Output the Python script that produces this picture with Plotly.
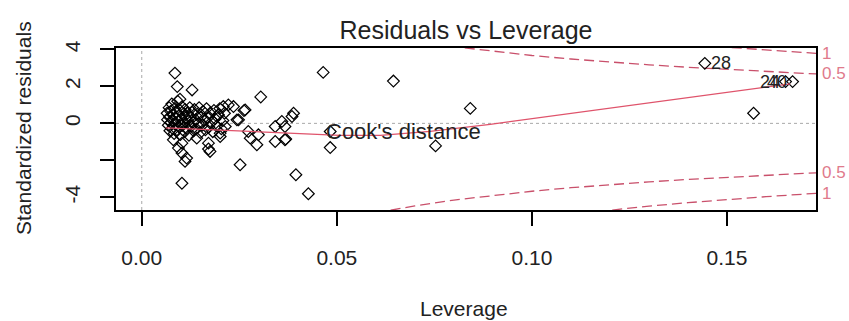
import plotly.graph_objects as go

# ---- data ----
leverage = [
    0.0065, 0.0066, 0.0068, 0.0070, 0.0071, 0.0072, 0.0074, 0.0075, 0.0077, 0.0078,
    0.0080, 0.0081, 0.0083, 0.0084, 0.0086, 0.0087, 0.0089, 0.0090, 0.0092, 0.0093,
    0.0095, 0.0096, 0.0098, 0.0099, 0.0101, 0.0103, 0.0104, 0.0106, 0.0108, 0.0110,
    0.0111, 0.0113, 0.0115, 0.0117, 0.0119, 0.0121, 0.0123, 0.0125, 0.0127, 0.0129,
    0.0131, 0.0133, 0.0135, 0.0138, 0.0140, 0.0142, 0.0145, 0.0147, 0.0150, 0.0152,
    0.0155, 0.0157, 0.0160, 0.0163, 0.0166, 0.0169, 0.0172, 0.0175, 0.0178, 0.0182,
    0.0185, 0.0188, 0.0192, 0.0196, 0.0200, 0.0204, 0.0208, 0.0212,
    0.0085, 0.0091, 0.0129, 0.0098, 0.0305, 0.0265, 0.0222, 0.0235, 0.0209, 0.0248,
    0.0196, 0.0201, 0.0214, 0.0273, 0.0278, 0.0299, 0.0295, 0.0342, 0.0359, 0.0367,
    0.0385, 0.0389, 0.0342, 0.0367, 0.0252, 0.0395, 0.0427, 0.0465, 0.0645, 0.0842,
    0.0483, 0.0483, 0.0753, 0.0103, 0.0081, 0.0103, 0.0171, 0.0094, 0.0103, 0.0111,
    0.0175, 0.0115, 0.0141, 0.0171, 0.0201, 0.0244, 0.0262, 0.0369,
    0.1443, 0.1650, 0.1668, 0.1568,
]
std_resid = [
    0.55, 0.20, -0.10, 0.85, 0.35, -0.40, 0.65, 0.05, 1.05, -0.25,
    0.45, 0.15, -0.55, 0.80, 0.30, -0.05, 0.60, -0.35, 1.20, 0.10,
    0.40, -0.20, 0.70, -0.60, 0.25, 0.90, -0.10, 0.50, 0.00, -0.45,
    0.75, 0.30, -0.25, 0.55, 0.10, -0.65, 0.85, 0.35, -0.15, 0.60,
    0.05, -0.40, 0.75, 0.20, -0.30, 0.50, 0.00, 0.85, -0.50, 0.35,
    -0.10, 0.65, 0.15, -0.35, 0.80, 0.30, -0.20, 0.55, 0.05, -0.45,
    0.70, 0.25, -0.15, 0.45, 0.80, -0.30, 0.15, 0.55,
    2.72, 1.99, 1.81, 1.31, 1.43, 0.73, 1.00, 0.91, 0.91, 0.19,
    0.46, -0.53, -0.17, -0.44, -0.80, -0.62, -1.16, -0.17, 0.10, -0.17,
    0.37, 0.55, -0.98, -0.89, -2.24, -2.78, -3.81, 2.76, 2.29, 0.81,
    -0.44, -1.31, -1.22, -3.24, -0.89, -1.07, -1.07, -1.34, -1.61, -2.06,
    -1.52, -1.88, -0.80, -1.39, -0.71, 0.19, 0.69, -0.85,
    3.25, 2.26, 2.26, 0.55,
]
# labelled observations (leverage, residual, id, side)
label_lev = [0.1443, 0.1650, 0.1668]
label_res = [3.25, 2.26, 2.26]
label_ids = ["28", "24", "40"]
label_side = ["right", "left", "left"]

# smoother (red solid line)
smooth_lev = [0.0062, 0.0149, 0.0278, 0.0406, 0.0508, 0.0611, 0.0739, 0.0893,
              0.1073, 0.1226, 0.1431, 0.1585, 0.1662]
smooth_res = [-0.24, -0.32, -0.43, -0.54, -0.65, -0.65, -0.43, -0.05,
              0.46, 0.89, 1.49, 1.92, 2.14]

# Cook's distance contours
cook_lev = [0.06, 0.07, 0.08, 0.09, 0.10, 0.11, 0.12, 0.13, 0.14, 0.15, 0.16, 0.17, 0.1728]
cook_05 = [4.848, 4.464, 4.153, 3.894, 3.674, 3.484, 3.317, 3.168, 3.036, 2.915, 2.806, 2.706, 2.680]
cook_10 = [6.856, 6.313, 5.874, 5.507, 5.196, 4.927, 4.690, 4.481, 4.293, 4.123, 3.969, 3.827, 3.790]
cook_levels = ["0.5", "1"]

x_ticks = [0.00, 0.05, 0.10, 0.15]
x_ticktext = ["0.00", "0.05", "0.10", "0.15"]
y_ticks = [-4, -2, 0, 2, 4]
y_ticktext = ["-4", "", "0", "2", "4"]

x_range = [-0.0066, 0.1728]
y_range = [-4.69, 4.08]

FONT = "Liberation Sans, Arial, sans-serif"
RED = "#DF536B"
DASHRED = "#C9506B"
GREY = "#A8A8A8"

fig = go.Figure()

# reference lines
fig.add_trace(go.Scatter(x=x_range, y=[0, 0], mode="lines",
                         line=dict(color=GREY, width=1, dash="3px,3px"),
                         hoverinfo="skip", showlegend=False))
fig.add_trace(go.Scatter(x=[0, 0], y=y_range, mode="lines",
                         line=dict(color=GREY, width=1, dash="3px,3px"),
                         hoverinfo="skip", showlegend=False))

# Cook's contours
for vals in (cook_05, cook_10):
    fig.add_trace(go.Scatter(x=cook_lev, y=vals, mode="lines",
                             line=dict(color=DASHRED, width=1.3, dash="10px,5px"),
                             hoverinfo="skip", showlegend=False))
    fig.add_trace(go.Scatter(x=cook_lev, y=[-v for v in vals], mode="lines",
                             line=dict(color=DASHRED, width=1.3, dash="10px,5px"),
                             hoverinfo="skip", showlegend=False))

# points
fig.add_trace(go.Scatter(x=leverage, y=std_resid, mode="markers",
                         marker=dict(symbol="diamond-open", size=9,
                                     color="black", line=dict(width=1.2, color="black")),
                         showlegend=False))

# smoother
fig.add_trace(go.Scatter(x=smooth_lev, y=smooth_res, mode="lines",
                         line=dict(color=RED, width=1.3),
                         hoverinfo="skip", showlegend=False))

annotations = []
for lx, ly, lid, side in zip(label_lev, label_res, label_ids, label_side):
    annotations.append(dict(
        x=lx, y=ly, xref="x", yref="y", text=lid, showarrow=False,
        xanchor="left" if side == "right" else "right",
        xshift=4 if side == "right" else -4, yanchor="middle",
        font=dict(family=FONT, size=18, color="#222222")))

# contour level labels in right margin
for lvl, vals in zip(cook_levels, (cook_05, cook_10)):
    for sgn in (1, -1):
        annotations.append(dict(
            x=1, y=sgn * vals[-1], xref="paper", yref="y", text=lvl,
            showarrow=False, xanchor="left", xshift=4, yanchor="middle",
            font=dict(family=FONT, size=17, color="#E07A8C")))

# legend text
annotations.append(dict(x=0.0466, y=-0.44, xref="x", yref="y",
                        text="Cook's distance", showarrow=False,
                        xanchor="left", yanchor="middle",
                        font=dict(family=FONT, size=22, color="#222222")))

# axis titles
annotations.append(dict(x=-0.1329, y=0.506, xref="paper", yref="paper",
                        text="Standardized residuals", showarrow=False,
                        textangle=-90, xanchor="center", yanchor="middle",
                        font=dict(family=FONT, size=21, color="#222222")))
annotations.append(dict(x=0.4974, y=-0.606, xref="paper", yref="paper",
                        text="Leverage", showarrow=False,
                        xanchor="center", yanchor="middle",
                        font=dict(family=FONT, size=21, color="#222222")))

fig.update_layout(
    width=849, height=321,
    margin=dict(l=116, r=33, t=48, b=111),
    paper_bgcolor="white", plot_bgcolor="white",
    title=dict(text="Residuals vs Leverage", x=0.5, xref="paper",
               y=0.905, yref="container", xanchor="center", yanchor="middle",
               font=dict(family=FONT, size=25, color="#222222")),
    annotations=annotations,
    showlegend=False,
)
fig.update_xaxes(range=x_range, tickvals=x_ticks, ticktext=x_ticktext,
                 showgrid=False, zeroline=False, showline=True, mirror=True,
                 linecolor="black", linewidth=1.5, ticks="outside", ticklen=14,
                 tickwidth=1.5, tickcolor="black", ticklabelstandoff=14,
                 tickfont=dict(family=FONT, size=21, color="#222222"))
fig.update_yaxes(range=y_range, tickvals=y_ticks, ticktext=y_ticktext,
                 showgrid=False, zeroline=False, showline=True, mirror=True,
                 linecolor="black", linewidth=1.5, ticks="outside", ticklen=14,
                 tickwidth=1.5, tickcolor="black", tickangle=-90,
                 ticklabelstandoff=12,
                 tickfont=dict(family=FONT, size=21, color="#222222"))

fig.write_html("out.html")
